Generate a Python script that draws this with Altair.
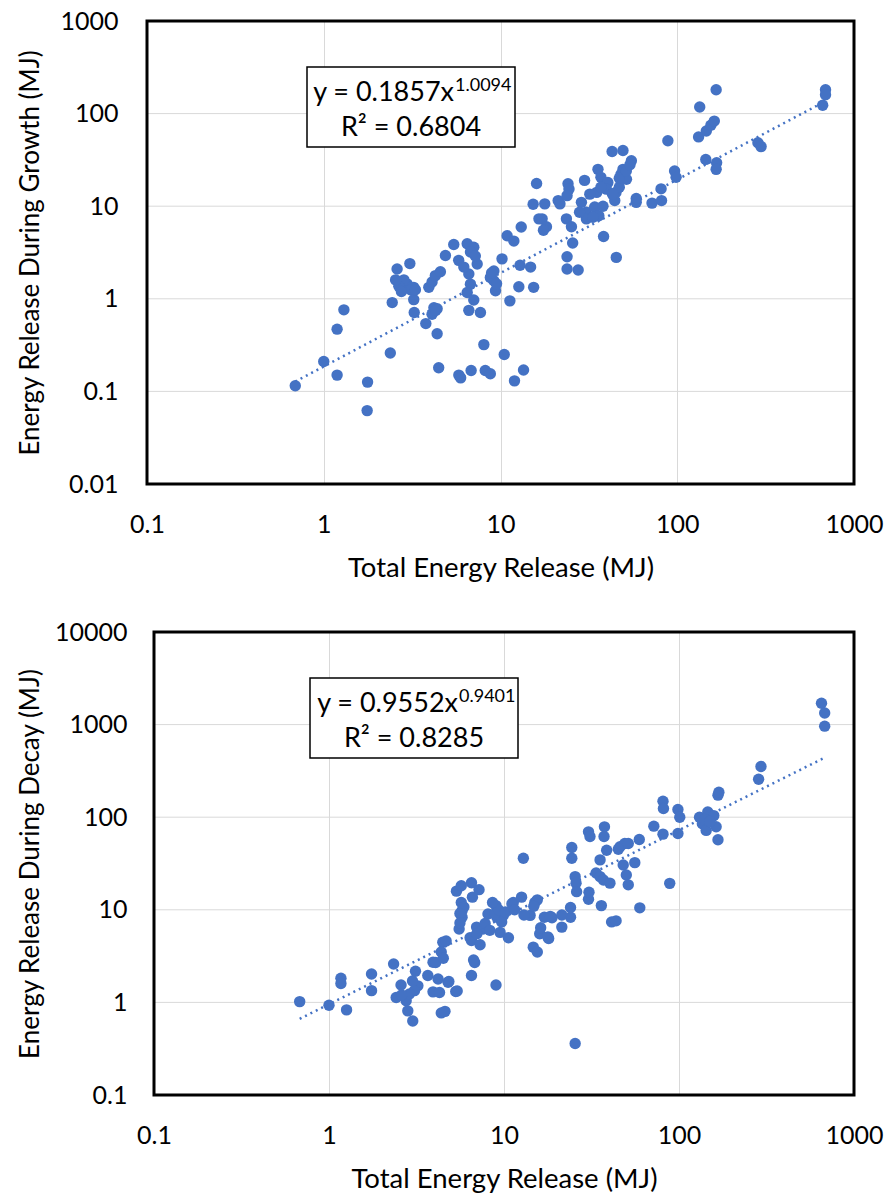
import altair as alt
import pandas as pd

# ---------------- data ----------------
top_x = [0.69, 1.0, 1.19, 1.19, 1.30, 1.77, 1.76, 2.38, 2.44, 2.6, 3.07, 2.72, 2.96, 3.23, 2.84,
         2.66, 3.1, 3.23, 3.25, 3.78, 4.1, 4.2, 4.38, 4.38, 4.47, 3.93, 4.1, 4.28, 4.57, 4.88,
         5.44, 5.8, 6.48, 7.06, 7.38, 6.62, 6.76, 6.48, 7.06, 6.62, 7.7, 5.81, 5.95, 6.82, 8.2,
         8.76, 8.05, 9.17, 9.17, 9.37, 8.76, 10.2, 10.5, 11.3, 10.9, 11.9, 13.1, 12.7, 13.5, 12.0,
         12.9, 14.8, 15.4, 15.3, 16.0, 16.5, 2.55, 2.75, 3.3, 6.76, 7.2, 6.2, 8.9, 9.5, 4.3,
         17.8, 17.2, 18.2, 17.5, 21.2, 21.7, 24.1, 24.4, 23.8, 23.6, 25.2, 25.6, 23.8, 23.8, 27.5,
         28.7, 29.9, 30.6, 30.6, 34.1, 35.0, 35.6, 36.0, 37.0, 38.3, 40.5, 39.7, 42.8, 45.2, 44.3,
         45.0, 47.0, 48.0, 49.3, 49.3, 51.6, 55.0, 58.6, 58.6, 72.0, 81.0, 81.5, 88.5, 96.6, 98.5,
         134, 132, 145, 146, 155, 162, 166, 167, 166, 286, 298, 665, 690, 690,
         32.0, 37.0, 43.0, 47.0, 51.5, 28.0, 33.3, 38.0, 54.0]
top_y = [0.115, 0.21, 0.15, 0.47, 0.76, 0.126, 0.062, 0.26, 0.91, 2.1, 2.4, 1.5, 1.45, 1.33, 1.6,
         1.37, 1.25, 0.98, 0.71, 0.54, 0.68, 0.8, 0.78, 0.42, 0.18, 1.33, 1.52, 1.78, 1.96, 2.93,
         3.86, 2.6, 3.93, 3.6, 2.38, 1.85, 1.44, 1.17, 0.97, 0.75, 0.71, 0.15, 0.14, 0.168, 0.168,
         0.155, 0.32, 2.0, 1.57, 1.22, 1.7, 2.7, 0.25, 0.95, 4.8, 4.2, 5.96, 1.35, 0.17, 0.13,
         2.3, 2.2, 1.33, 10.5, 17.6, 7.3, 1.6, 1.2, 1.25, 3.2, 2.9, 2.2, 1.9, 1.45, 0.75,
         10.6, 7.3, 6.0, 5.5, 11.5, 10.6, 17.5, 15.3, 13.0, 7.3, 6.0, 4.0, 2.85, 2.1, 2.05,
         11.0, 19.0, 8.6, 7.3, 9.8, 14.1, 25.0, 7.9, 20.5, 4.7, 18.0, 15.3, 39.0, 2.8, 11.5,
         14.1, 16.0, 22.0, 40.0, 25.0, 19.5, 31.0, 11.0, 12.1, 10.8, 15.4, 11.5, 51.0, 24.0, 20.5,
         118, 56, 32, 65, 75, 83, 181, 29.5, 25, 48.5, 44, 123, 181, 160,
         13.5, 16.0, 13.5, 20.0, 24.0, 8.6, 7.6, 10.0, 28.0]

bot_x = [0.68, 1.0, 1.17, 1.17, 1.26, 1.75, 1.75, 2.34, 2.58, 2.42, 2.76, 2.82, 3.01, 3.12, 3.22,
         3.08, 2.88, 3.67, 3.93, 4.2, 4.38, 3.93, 4.28, 4.79, 5.3, 4.47, 4.38, 4.07, 4.67, 5.54,
         5.76, 5.76, 5.7, 5.35, 5.7, 6.52, 7.2, 6.6, 6.52, 6.8, 6.52, 6.4, 6.97, 7.6, 8.1,
         9.0, 9.1, 9.5, 10.6, 9.0, 11.3, 9.9, 12.9, 12.6, 14.1, 15.0, 14.7, 15.5, 16.0, 17.0,
         18.0, 25.5, 6.7, 5.4, 4.84, 21.4, 24.0, 24.0, 18.8, 17.8, 36.0, 41.2, 59.7, 88.5, 30.4,
         5.9, 5.6, 7.8, 8.9, 9.7, 11.1, 4.6, 13.0, 15.5, 14.8, 16.2, 18.4, 21.4, 24.4, 24.4,
         25.5, 25.8, 26.0, 30.4, 31.0, 30.6, 33.6, 35.4, 35.4, 37.5, 37.3, 37.0, 38.6, 40.3, 43.7,
         46.0, 49.0, 51.3, 48.0, 50.0, 51.3, 55.9, 59.3, 71.8, 81.0, 81.5, 81.0, 98.6, 101, 98.6,
         131, 136, 146, 143, 158, 163, 167, 169, 167, 294, 285, 652, 680, 680,
         7.0, 8.3, 9.3, 10.2, 11.5, 8.6, 7.3, 5.6, 4.5, 3.0, 2.6, 45.0, 140, 150]
bot_y = [1.02, 0.93, 1.82, 1.6, 0.83, 2.03, 1.34, 2.6, 1.54, 1.13, 1.04, 0.81, 0.63, 2.17, 1.51,
         1.34, 1.23, 1.95, 2.71, 1.79, 0.77, 1.3, 1.28, 1.65, 1.31, 4.47, 3.5, 2.7, 4.6, 6.2,
         8.3, 9.8, 12.0, 15.9, 18.2, 19.6, 16.5, 13.7, 4.66, 2.7, 1.95, 5.0, 6.5, 6.2, 9.0,
         11.1, 8.3, 5.7, 5.0, 1.54, 12.0, 8.7, 36.0, 13.7, 8.7, 12.0, 3.95, 3.5, 5.5, 8.3,
         4.9, 0.36, 2.87, 1.33, 1.68, 6.5, 8.3, 10.6, 8.2, 5.1, 11.1, 7.4, 10.5, 19.3, 13.0,
         10.7, 9.1, 7.1, 9.1, 7.4, 11.6, 0.8, 8.8, 12.8, 10.9, 6.4, 8.5, 8.8, 47.0, 36.0,
         22.8, 19.4, 15.7, 69.5, 62.0, 15.5, 25.0, 22.8, 34.6, 78.7, 62.0, 21.0, 44.0, 19.4, 7.6,
         48.0, 52.0, 52.0, 30.5, 23.8, 18.6, 32.3, 57.5, 80.0, 149, 124, 65.6, 121, 100, 66.7,
         100, 85, 114, 72, 104, 79, 173, 186, 57, 353, 257, 1700, 1334, 962,
         5.5, 6.0, 10.0, 9.5, 10.0, 12.0, 4.2, 7.2, 3.0, 1.7, 1.2, 45.0, 95, 90]

# power-law trendlines as printed on the chart
top_coef, top_pow, top_r2 = 0.1857, 1.0094, "0.6804"
bot_coef, bot_pow, bot_r2 = 0.9552, 0.9401, "0.8285"
x_ticks = [0.1, 1, 10, 100, 1000]
top_y_ticks = [0.01, 0.1, 1, 10, 100, 1000]
bot_y_ticks = [0.1, 1, 10, 100, 1000, 10000]

BLUE = "#4472C4"
GRID = "#d9d9d9"
FONT = "Lato"
FS = 25
W, H = 707, 463


def panel(xs, ys, coef, power, r2, ytitle, yticks, x0, ylabpad, box, sup_x):
    pts = pd.DataFrame({"x": xs, "y": ys})
    fx = [min(xs), max(xs)]
    fit = pd.DataFrame({"x": fx, "y": [coef * v ** power for v in fx]})
    xs_ = alt.Scale(type="log", domain=[x_ticks[0], x_ticks[-1]], range=[x0, W], nice=False)
    ys_ = alt.Scale(type="log", domain=[yticks[0], yticks[-1]], nice=False)
    xax = alt.Axis(values=x_ticks, format="~g", title="Total Energy Release (MJ)",
                   titleY=92, titleBaseline="alphabetic", labelPadding=28,
                   titleFontSize=27.5, labelFlush=False)
    yax = alt.Axis(values=yticks, format="~g", title=ytitle, labelPadding=ylabpad,
                   titleX=-109, titleY=H / 2, titleAngle=270, titleAlign="center",
                   titleBaseline="alphabetic", titleFontSize=26, labelFlush=False,
                   grid=False)
    ygrid = alt.Chart(pd.DataFrame({"y": yticks})).mark_rule(color=GRID, strokeWidth=1).encode(
        y=alt.Y("y:Q", scale=ys_, axis=yax), x=alt.value(x0), x2=alt.value(W))
    points = alt.Chart(pts).mark_circle(size=130, color=BLUE, opacity=1).encode(
        x=alt.X("x:Q", scale=xs_, axis=xax),
        y=alt.Y("y:Q", scale=ys_, axis=yax),
    )
    line = alt.Chart(fit).mark_line(color=BLUE, strokeWidth=2.5, strokeDash=[2, 4]).encode(
        x="x:Q", y="y:Q")
    one = pd.DataFrame({"k": [0]})
    frame = alt.Chart(one).mark_rect(fillOpacity=0, stroke="black", strokeWidth=3).encode(
        x=alt.value(x0), x2=alt.value(W), y=alt.value(0), y2=alt.value(H))
    rect = alt.Chart(one).mark_rect(fill="white", stroke="black", strokeWidth=1.5).encode(
        x=alt.value(box[0]), x2=alt.value(box[1]), y=alt.value(box[2]), y2=alt.value(box[3]))
    t1 = alt.Chart(one).mark_text(text=f"y = {coef}x", align="right", baseline="alphabetic",
                                  font=FONT, fontSize=27, color="black").encode(
        x=alt.value(sup_x - 1), y=alt.value(box[2] + 34))
    t2 = alt.Chart(one).mark_text(text=f"{power}", align="left", baseline="alphabetic",
                                  font=FONT, fontSize=18, color="black").encode(
        x=alt.value(sup_x), y=alt.value(box[2] + 24))
    t3 = alt.Chart(one).mark_text(text=f"R² = {r2}", align="center", baseline="alphabetic",
                                  font=FONT, fontSize=27, color="black").encode(
        x=alt.value((box[0] + box[1]) / 2), y=alt.value(box[2] + 69))
    return alt.layer(ygrid, line, points, frame, rect, t1, t2, t3).properties(width=W, height=H)


top = panel(top_x, top_y, top_coef, top_pow, top_r2, "Energy Release During Growth (MJ)",
            top_y_ticks, 0, 29, (160, 368, 46, 126), 308)
bot = panel(bot_x, bot_y, bot_coef, bot_pow, bot_r2, "Energy Release During Decay (MJ)",
            bot_y_ticks, 7, 20, (163, 371, 46, 126), 312)

chart = alt.vconcat(top, bot, spacing=38).properties(
    padding={"top": 9, "left": 16, "right": 4, "bottom": 1},
    background="white",
).configure_view(strokeOpacity=0).configure_axis(
    domain=False, ticks=False, grid=True, gridColor=GRID, gridWidth=1,
    labelFont=FONT, labelFontSize=FS, labelColor="black",
    titleFont=FONT, titleFontSize=FS, titleColor="black", titleFontWeight="normal",
)

chart.save("out.html", embed_options={"renderer": "svg", "actions": False})
